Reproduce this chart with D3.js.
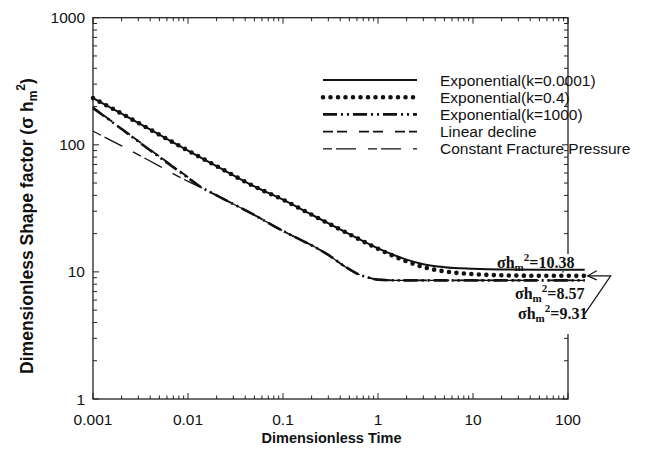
<!DOCTYPE html>
<html><head><meta charset="utf-8">
<script src="https://cdn.jsdelivr.net/npm/d3@7"></script>
<style>
body{margin:0;background:#fff;}
text{font-family:"Liberation Sans",Arial,sans-serif;fill:#111;}
</style></head>
<body><svg id="c" width="670" height="450"></svg>
<script>
// ---- data ----
const xTickLabels = ["0.001","0.01","0.1","1","10","100"];
const yTickLabels = ["1","10","100","1000"];
const seriesNames = ["Exponential(k=0.0001)","Exponential(k=0.4)","Exponential(k=1000)","Linear decline","Constant Fracture Pressure"];
const tExpSmall = [0.001,0.002,0.005,0.01,0.02,0.05,0.1,0.2,0.5,1,2,3,5,10,20,50,150];
const yExpSmall = [233,176,120,90,68,47,37,28.2,19.8,15.3,12.5,11.5,10.9,10.6,10.45,10.4,10.38];
const tExpMid = [0.001,0.002,0.005,0.01,0.02,0.05,0.1,0.2,0.5,1,2,3,5,10,20,50,150];
const yExpMid = [233,176,120,90,68,47,37,28.2,19.8,15.2,12.1,10.9,10.1,9.6,9.4,9.33,9.31];
const tExpBig = [0.001,0.002,0.005,0.01,0.0134,0.02,0.05,0.1,0.15,0.2,0.3,0.45,0.6,0.8,1,1.5,2,5,10,50,150];
const yExpBig = [195,133,80,55,47,40,28,21,18,16.2,13.6,11,9.7,9.0,8.7,8.58,8.57,8.57,8.57,8.57,8.57];
const tLinear = [0.001,0.002,0.005,0.01,0.0134,0.02,0.05,0.1,0.15,0.2,0.3,0.45,0.6,0.8,1,1.5,2,5,10,50,150];
const yLinear = [197,134,81,55.5,47,40,28,21,18,16.2,13.6,11,9.7,9.0,8.7,8.58,8.57,8.57,8.57,8.57,8.57];
const tConst = [0.001,0.002,0.005,0.01,0.0134,0.02,0.05,0.1,0.15,0.2,0.3,0.45,0.6,0.8,1,1.5,2,5,10,50,150];
const yConst = [128,98,68,51.5,46.5,40,28,21,18,16.2,13.6,11,9.7,9.0,8.7,8.58,8.57,8.57,8.57,8.57,8.57];
const finalValues = ["10.38","8.57","9.31"];

// ---- layout ----
const svg = d3.select("#c");
const L=93, R=568, T=17.7, B=399;
const x = d3.scaleLog().domain([0.001,100]).range([L,R]);
const y = d3.scaleLog().domain([1,1000]).range([B,T]);

// frame
svg.append("rect").attr("x",L).attr("y",T).attr("width",R-L).attr("height",B-T)
  .attr("fill","none").attr("stroke","#222").attr("stroke-width",1.3);

// ticks (inward on all sides)
function minors(dom){const out=[];for(let d=dom[0];d<dom[1];d*=10){for(let k=1;k<10;k++)out.push(d*k);}out.push(dom[1]);return out;}
const xt = minors([0.001,100]), yt = minors([1,1000]);
const isMajor = v => Math.abs(Math.log10(v)-Math.round(Math.log10(v)))<1e-9;
const g = svg.append("g").attr("stroke","#222").attr("stroke-width",1);
xt.forEach(v=>{const len=isMajor(v)?6:3.5;const px=x(v);
  g.append("line").attr("x1",px).attr("x2",px).attr("y1",B).attr("y2",B-len);
  g.append("line").attr("x1",px).attr("x2",px).attr("y1",T).attr("y2",T+len);});
yt.forEach(v=>{const len=isMajor(v)?6:4;const py=y(v);
  g.append("line").attr("x1",L).attr("x2",L+len).attr("y1",py).attr("y2",py);
  g.append("line").attr("x1",R).attr("x2",R-len).attr("y1",py).attr("y2",py);});

// white patch behind annotation (hides frame there)
svg.append("rect").attr("x",R-4).attr("y",254).attr("width",8).attr("height",80).attr("fill","#fff");

// tick labels
xTickLabels.forEach(s=>{svg.append("text").attr("x",x(+s)).attr("y",425).attr("text-anchor","middle")
  .attr("font-size",15.5).text(s);});
yTickLabels.forEach(s=>{svg.append("text").attr("x",L-8).attr("y",y(+s)+5.5).attr("text-anchor","end")
  .attr("font-size",15.5).text(s);});

// axis titles
svg.append("text").attr("x",(L+R)/2+1).attr("y",443).attr("text-anchor","middle")
  .attr("font-size",14.5).attr("font-weight","bold").text("Dimensionless Time");
const yt2 = svg.append("text").attr("transform","translate(33,226) rotate(-90)").attr("text-anchor","middle")
  .attr("font-size",17.5).attr("font-weight","bold");
yt2.append("tspan").text("Dimensionless Shape factor (σ h");
yt2.append("tspan").attr("font-size",12).attr("dy",4).text("m");
yt2.append("tspan").attr("font-size",12).attr("dy",-12).text("2");
yt2.append("tspan").attr("dy",8).text(")");

// series
const styles = [
  {w:2, dash:null, cap:"butt"},
  {w:4.6, dash:"0,7.5", cap:"round"},
  {w:2.6, dash:"14,4,2,4,2,4", cap:"butt"},
  {w:1.8, dash:"10,4,10,12", cap:"butt"},
  {w:1.3, dash:"9,4,20,12", cap:"butt"}
];
const series = [
  {t:tExpSmall,v:yExpSmall},{t:tExpMid,v:yExpMid},{t:tExpBig,v:yExpBig},{t:tLinear,v:yLinear},{t:tConst,v:yConst}
];
const line = d3.line().x(d=>x(d[0])).y(d=>y(d[1])).curve(d3.curveMonotoneX);
const drawOrder=[4,3,2,0,1];
drawOrder.forEach(i=>{const s=series[i], st=styles[i];
  svg.append("path").attr("d",line(s.t.map((t,j)=>[t,s.v[j]])))
    .attr("fill","none").attr("stroke","#111").attr("stroke-width",st.w)
    .attr("stroke-dasharray",st.dash).attr("stroke-linecap",st.cap);});

// legend
const lg = svg.append("g");
seriesNames.forEach((n,i)=>{const yy=80+i*17.2, st=styles[i];
  lg.append("line").attr("x1",323).attr("x2",417).attr("y1",yy).attr("y2",yy)
    .attr("stroke","#111").attr("stroke-width",st.w).attr("stroke-dasharray",st.dash).attr("stroke-linecap",st.cap);
  lg.append("text").attr("x",440).attr("y",yy+5.5).attr("font-size",15.5).text(n);});

// annotations
const ann = [{x:497,y:268},{x:515,y:299},{x:518,y:319}];
finalValues.forEach((v,i)=>{const t=svg.append("text").attr("x",ann[i].x).attr("y",ann[i].y)
    .style("font-family","'Liberation Serif','Times New Roman',serif").attr("font-weight","bold").attr("font-size",16);
  t.append("tspan").text("σh");
  t.append("tspan").attr("font-size",11).attr("dy",3).text("m");
  t.append("tspan").attr("font-size",11).attr("dy",-10).text("2");
  t.append("tspan").attr("dy",7).text("="+v);});
const tip=[x(150)+3,y(9.31)];
const an = svg.append("g").attr("stroke","#111").attr("fill","none").attr("stroke-width",1.2);
an.append("path").attr("d",`M${tip[0]+9},${tip[1]-5}L${tip[0]},${tip[1]}L${tip[0]+9},${tip[1]+4}`);
an.append("path").attr("d",`M${tip[0]},${tip[1]}L${tip[0]+23},${tip[1]}L${tip[0]-3},${tip[1]+38}`);
</script></body></html>
